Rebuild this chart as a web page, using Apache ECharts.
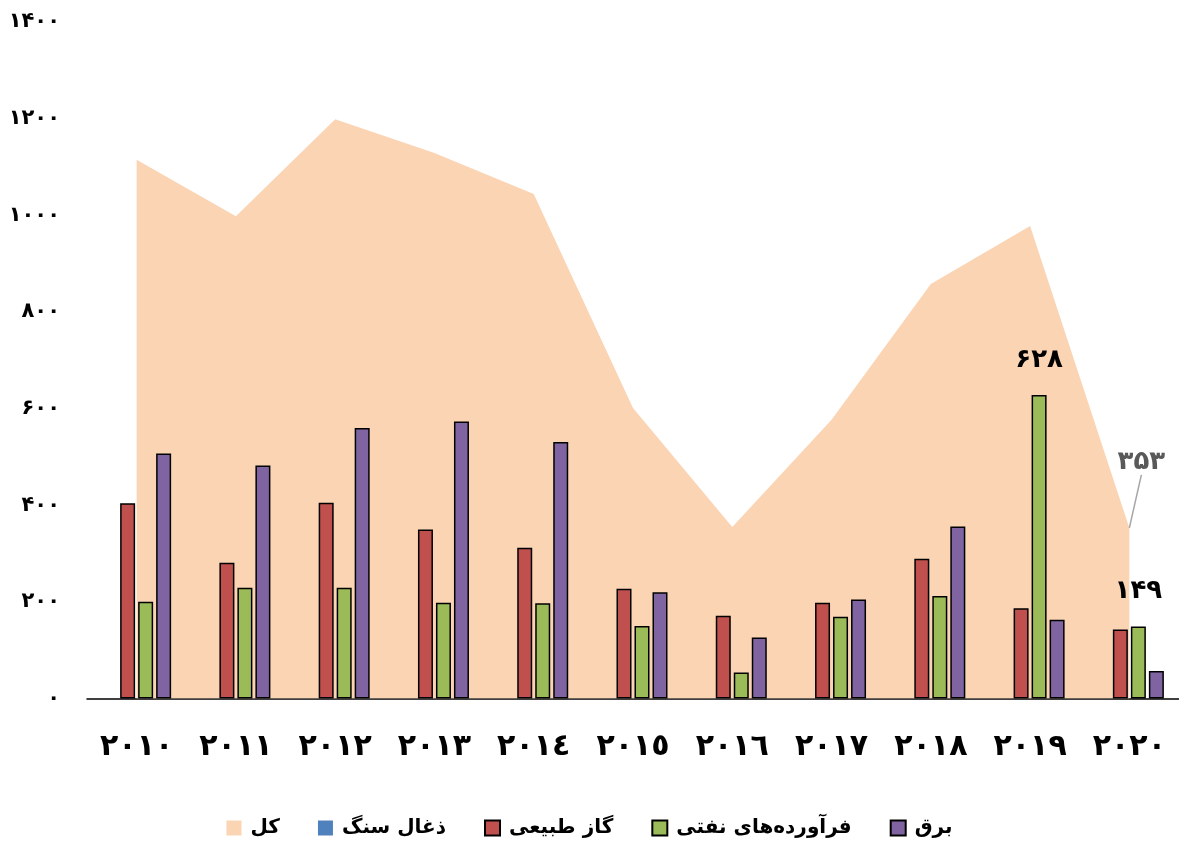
<!DOCTYPE html>
<html>
<head>
<meta charset="utf-8">
<script src="https://cdn.jsdelivr.net/npm/echarts@6/dist/echarts.min.js"></script>
<style>
html,body{margin:0;padding:0;background:#fff;}
#chart{width:1179px;height:846px;}
</style>
</head>
<body>
<div id="chart"></div>
<script>
// Data
const categories = ['٢٠١٠','٢٠١١','٢٠١٢','٢٠١٣','٢٠١٤','٢٠١٥','٢٠١٦','٢٠١٧','٢٠١٨','٢٠١٩','٢٠٢٠'];
const seriesNames = ['کل', 'ذغال سنگ', 'گاز طبیعی', 'فرآورده‌های نفتی', 'برق'];
const total = [1115, 998, 1199, 1129, 1044, 601, 355, 577, 858, 978, 353];
const coal  = [null, null, null, null, null, null, null, null, null, null, null];
const gas   = [404, 281, 405, 350, 312, 227, 171, 198, 289, 187, 143];
const oil   = [200, 229, 229, 198, 197, 150, 54, 169, 212, 628, 149];
const elec  = [507, 482, 560, 573, 531, 220, 126, 205, 356, 163, 57];
const yTicks = [0, 200, 400, 600, 800, 1000, 1200, 1400];
const labelledOil = [9, 10];     // indexes with value labels on oil bars
const labelledTotal = [10];      // index with value label on total area

const faDigits = '۰۱۲۳۴۵۶۷۸۹';
function toFa(v){ return String(v).replace(/[0-9]/g, d => faDigits[+d]); }

const FONT = 'DejaVu Sans';
const chart = echarts.init(document.getElementById('chart'));

const barBase = {
  type: 'bar',
  barWidth: 15,
  barGap: '20%',
  itemStyle: { borderColor: '#000', borderWidth: 1.5 }
};

const option = {
  animation: false,
  textStyle: { fontFamily: FONT },
  grid: { left: 87, right: -3, top: 22, bottom: 147.5 },
  legend: {
    bottom: 3,
    left: 'center',
    itemWidth: 15,
    itemHeight: 15,
    itemGap: 38,
    textStyle: { fontFamily: FONT, fontSize: 20, fontWeight: 'bold', color: '#000', padding: [0, 0, 0, 4] },
    data: seriesNames.map(n => ({ name: n, icon: 'rect' }))
  },
  xAxis: {
    type: 'category',
    data: categories,
    axisLine: { lineStyle: { color: '#000', width: 1.5 } },
    axisTick: { length: 10, lineStyle: { color: '#000', width: 1.5 } },
    axisLabel: { fontFamily: FONT, fontSize: 30, fontWeight: 'bold', color: '#000', margin: 34 }
  },
  yAxis: {
    type: 'value',
    min: yTicks[0],
    max: yTicks[yTicks.length - 1],
    interval: yTicks[1] - yTicks[0],
    splitLine: { show: false },
    axisLine: { show: false },
    axisTick: { show: false },
    axisLabel: { formatter: v => toFa(v), fontFamily: FONT, fontSize: 21, fontWeight: 'bold', color: '#000', margin: 27 }
  },
  series: [
    {
      name: seriesNames[0],
      type: 'line',
      z: 1,
      data: total.map((v, i) => labelledTotal.includes(i) ? {
        value: v,
        label: { show: true, position: 'top', formatter: p => toFa(p.value), fontFamily: FONT, fontSize: 26, fontWeight: 'bold', color: '#595959' },
        labelLine: { show: true, lineStyle: { color: '#A6A6A6', width: 1.5 } }
      } : v),
      symbol: 'circle',
      symbolSize: 0.1,
      showSymbol: true,
      color: '#FBD4B4',
      itemStyle: { color: '#FBD4B4', borderWidth: 0 },
      lineStyle: { width: 0, color: '#FBD4B4' },
      areaStyle: { color: '#FBD4B4', opacity: 1 },
      labelLayout: p => labelledTotal.includes(p.dataIndex) ? { dx: 12, dy: -48 } : {}
    },
    Object.assign({}, barBase, {
      name: seriesNames[1], data: coal, color: '#4F81BD',
      itemStyle: { color: '#4F81BD', borderWidth: 0 }
    }),
    Object.assign({}, barBase, {
      name: seriesNames[2], data: gas, color: '#C0504D',
      itemStyle: { color: '#C0504D', borderColor: '#000', borderWidth: 1.5 }
    }),
    Object.assign({}, barBase, {
      name: seriesNames[3], color: '#9BBB59',
      itemStyle: { color: '#9BBB59', borderColor: '#000', borderWidth: 1.5 },
      data: oil.map((v, i) => labelledOil.includes(i) ? {
        value: v,
        label: { show: true, position: 'top', distance: 22, formatter: p => toFa(p.value), fontFamily: FONT, fontSize: 26, fontWeight: 'bold', color: '#000' }
      } : v)
    }),
    Object.assign({}, barBase, {
      name: seriesNames[4], data: elec, color: '#8064A2',
      itemStyle: { color: '#8064A2', borderColor: '#000', borderWidth: 1.5 }
    })
  ]
};
chart.setOption(option);
</script>
</body>
</html>
